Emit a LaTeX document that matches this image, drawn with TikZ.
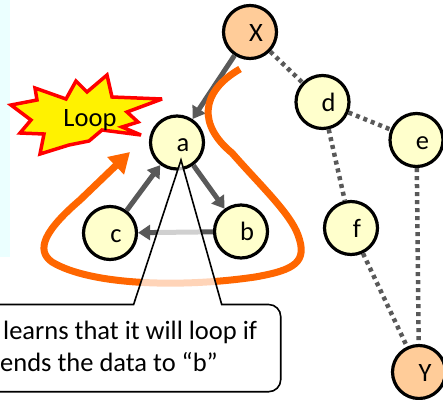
\documentclass[tikz,border=0pt]{standalone}
\usepackage{fontspec}
\setmainfont{Carlito}
\usetikzlibrary{arrows.meta}
\definecolor{gr}{HTML}{595959}
\definecolor{orng}{HTML}{FF6600}
\definecolor{cy}{HTML}{FFFFCC}
\definecolor{pk}{HTML}{FFCC99}
\definecolor{strip}{HTML}{EBFFFF}
\newcommand{\lblfont}{\fontsize{26.5}{31}\selectfont}
\tikzset{
  nodey/.style={circle, draw=black, line width=3.2pt, fill=cy, minimum size=53pt,
    inner sep=0pt, font=\lblfont, text height=20pt, text depth=2pt},
  nodeo/.style={nodey, fill=pk},
  garrow/.style={draw=gr, line width=5pt, -{Triangle[length=12pt,width=15pt]}},
  gdots/.style={draw=gr, line width=4.5pt, dash pattern=on 4pt off 4pt},
  txt/.style={font=\lblfont, inner sep=0pt},
}
\begin{document}
\begin{tikzpicture}[x={(1pt,0)}, y={(0,-1pt)}]
\useasboundingbox (0,0) rectangle (443,399);
\clip (0,0) rectangle (443,399);
% left strip
\fill[strip] (0,0) rectangle (10,257);

% nodes
\node[nodeo] (X) at (250,32) {\hspace*{12pt}X};
\node[nodey] (a) at (177,142.5) {\hspace*{12pt}a};
\node[nodey] (c) at (110,233) {\hspace*{12pt}c};
\node[nodey] (b) at (241,231.5) {\hspace*{12pt}b};
\node[nodey] (d) at (322.5,102) {\hspace*{12pt}d};
\node[nodey] (e) at (416.5,140) {\hspace*{12pt}e};
\node[nodey] (f) at (351,228) {\hspace*{12pt}f};
\node[nodeo] (Y) at (419,372) {\hspace*{12pt}Y};

% dotted links
\draw[gdots] (X) -- (d);
\draw[gdots] (d) -- (e);
\draw[gdots] (d) -- (f);
\draw[gdots] (e) -- (Y);
\draw[gdots] (f) -- (Y);

% gray arrows
\draw[garrow] (X) -- (a);
\draw[garrow] (c) -- (a);
\draw[garrow] (a) -- (b);
\draw[garrow] (b) -- (c);

% orange loop
\coordinate (ostart) at (240,69);
\coordinate (otip) at (130,152);
\draw[orng, line width=7pt, line join=round, -{Triangle[length=20pt,width=23pt]}]
  (ostart) .. controls (200,92) and (198,125) .. (232,153)
  .. controls (260,185) and (290,213) .. (298,235)
  .. controls (308,262) and (295,270) .. (255,277)
  .. controls (180,288) and (90,285) .. (52,262)
  .. controls (35,250) and (45,230) .. (80,200)
  -- (otip);

% explosion
\filldraw[fill=yellow, draw=red, line width=3.5pt, miter limit=4]
  (35,88) -- (66,99) -- (76,81) -- (87,92) -- (107,75) -- (112,97) -- (162,99)
  -- (127,112) -- (138,122) -- (122,127) -- (141,135) -- (102,130) -- (89,141)
  -- (69,145) -- (40,154) -- (44,134) -- (20,133) -- (31,120) -- (11,105)
  -- (37,100) -- cycle;
\node[txt, anchor=base] (loop) at (90,126) {Loop};

% callout
\coordinate (apex) at (181,160);
\path[fill=white, fill opacity=0.72]
  (133.6,304.5) -- (apex) -- (221.7,304.5) -- (268.7,304.5)
  arc[start angle=-90, end angle=0, radius=12] -- (280.7,379.7)
  arc[start angle=0, end angle=90, radius=12] -- (-20,391.7) -- (-20,304.5) -- cycle;
\draw[black, line width=1.6pt, line join=miter]
  (-20,304.5) -- (133.6,304.5) -- (apex) -- (221.7,304.5) -- (268.7,304.5)
  arc[start angle=-90, end angle=0, radius=12] -- (280.7,379.7)
  arc[start angle=0, end angle=90, radius=12] -- (-20,391.7);
\node[txt, anchor=base west] (l1) at (3,339.5) {learns that it will loop if};
\node[txt, anchor=base west] (l2) at (0,371) {ends the data to “b”};
\end{tikzpicture}
\end{document}
